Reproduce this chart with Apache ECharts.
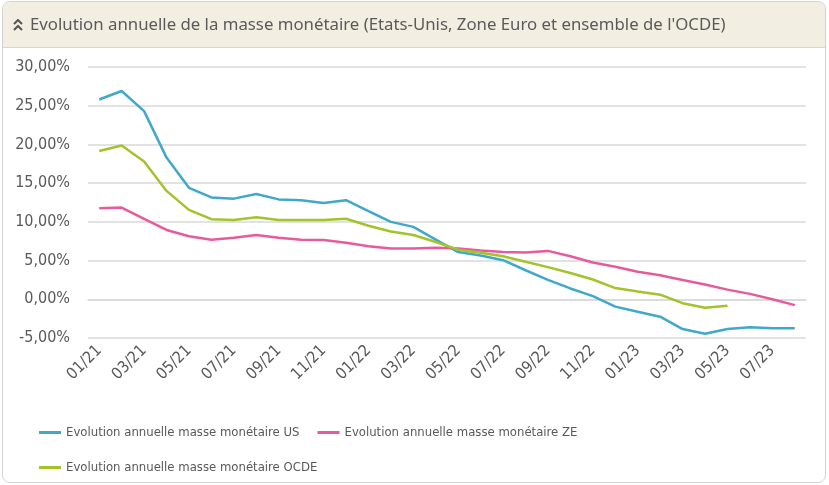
<!DOCTYPE html>
<html>
<head>
<meta charset="utf-8">
<script src="https://cdn.jsdelivr.net/npm/echarts@6/dist/echarts.min.js"></script>
<style>
  html, body { margin: 0; padding: 0; background: #fff; }
  #panel {
    position: absolute; left: 2px; top: 1px; width: 822px; height: 480px;
    border: 1px solid #d2d2d2; border-radius: 8px; overflow: hidden;
  }
  #head {
    position: absolute; left: 0; top: 0; right: 0; height: 45px;
    background: #f3eee2; border-bottom: 1px solid #d8d6d0;
    font-family: "Noto Sans", sans-serif;
    font-size: 16.8px; color: #5a5a5a; line-height: 44px;
  }
  #head svg { position: absolute; left: 10px; top: 17px; }
  #head span { position: absolute; left: 27px; top: 0; }
  #chart { position: absolute; left: 0; top: 0; width: 829px; height: 485px; }
</style>
</head>
<body>
<div id="chart"></div>
<div id="panel">
  <div id="head">
    <svg width="10" height="12" viewBox="0 0 10 12">
      <polyline points="1,5 5,1 9,5" fill="none" stroke="#555" stroke-width="2"/>
      <polyline points="1,11 5,7 9,11" fill="none" stroke="#555" stroke-width="2"/>
    </svg>
    <span>Evolution annuelle de la masse monétaire (Etats-Unis, Zone Euro et ensemble de l'OCDE)</span>
  </div>
</div>
<script>
// mois (01/21 -> 08/23)
var mois = ['01/21', '02/21', '03/21', '04/21', '05/21', '06/21', '07/21', '08/21', '09/21', '10/21', '11/21', '12/21',
    '01/22', '02/22', '03/22', '04/22', '05/22', '06/22', '07/22', '08/22', '09/22', '10/22', '11/22', '12/22',
    '01/23', '02/23', '03/23', '04/23', '05/23', '06/23', '07/23', '08/23'];

// evolution annuelle en %
var us = [25.8, 26.9, 24.3, 18.3, 14.4, 13.15, 13.0, 13.6, 12.9, 12.8, 12.45, 12.8,
    11.4, 10.0, 9.35, 7.7, 6.1, 5.65, 5.05, 3.75, 2.5, 1.4, 0.4, -0.95,
    -1.6, -2.25, -3.85, -4.45, -3.85, -3.6, -3.75, -3.75];
var ze = [11.75, 11.85, 10.4, 8.95, 8.15, 7.7, 7.95, 8.3, 7.95, 7.7, 7.65, 7.3,
    6.85, 6.55, 6.55, 6.65, 6.55, 6.3, 6.1, 6.05, 6.25, 5.55, 4.75, 4.2,
    3.55, 3.1, 2.5, 1.9, 1.25, 0.7, 0.0, -0.75];
var ocde = [19.15, 19.85, 17.8, 14.0, 11.55, 10.35, 10.25, 10.6, 10.25, 10.25, 10.25, 10.4,
    9.5, 8.75, 8.3, 7.4, 6.4, 6.0, 5.55, 4.85, 4.15, 3.4, 2.55, 1.45,
    1.0, 0.6, -0.5, -1.1, -0.85, null, null, null];

var noms = ['Evolution annuelle masse monétaire US', 'Evolution annuelle masse monétaire ZE', 'Evolution annuelle masse monétaire OCDE'];
var couleurs = ['#3fa9c9', '#e75a9c', '#a3c32b'];

var police = '"DejaVu Sans Condensed", "Noto Sans", sans-serif';

var chart = echarts.init(document.getElementById('chart'));

function serie(i, data) {
    return {
        name: noms[i],
        type: 'line',
        data: data,
        symbol: 'none',
        connectNulls: false,
        lineStyle: { color: couleurs[i], width: 2.5 },
        itemStyle: { color: couleurs[i] }
    };
}

var option = {
    animation: false,
    grid: { left: 88, right: 23, top: 67, bottom: 147, containLabel: false },
    legend: {
        left: 34,
        top: 419,
        width: 600,
        icon: 'rect',
        itemWidth: 22,
        itemHeight: 3,
        itemGap: 18,
        data: noms,
        textStyle: { color: '#595959', fontSize: 13, fontFamily: police, lineHeight: 17 }
    },
    xAxis: {
        type: 'category',
        data: mois,
        boundaryGap: true,
        axisLine: { show: true, lineStyle: { color: '#d9d9d9', width: 1.5 } },
        axisTick: { show: false },
        axisLabel: {
            interval: 1,
            rotate: 45,
            margin: 10,
            color: '#595959',
            fontSize: 16,
            fontFamily: police
        }
    },
    yAxis: {
        type: 'value',
        min: -5,
        max: 30,
        interval: 5,
        axisLine: { show: false },
        axisTick: { show: false },
        splitLine: { lineStyle: { color: '#d9d9d9', width: 1.5 } },
        axisLabel: {
            margin: 18,
            color: '#595959',
            fontSize: 16,
            fontFamily: police,
            formatter: function (v) { return v.toFixed(2).replace('.', ',') + '%'; }
        }
    },
    series: [serie(0, us), serie(1, ze), serie(2, ocde)]
};

chart.setOption(option);
</script>
</body>
</html>
